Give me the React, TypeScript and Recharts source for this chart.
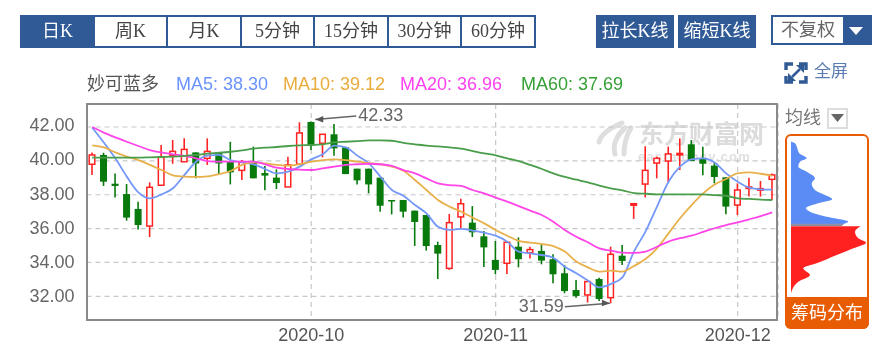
import React from 'react';
import {
  Area,
  Bar,
  CartesianGrid,
  ComposedChart,
  Line,
  ReferenceDot,
  XAxis,
  YAxis,
} from 'recharts';

const tradingDates = [
  '2020-09-04', '2020-09-07', '2020-09-08', '2020-09-09', '2020-09-10', '2020-09-11',
  '2020-09-14', '2020-09-15', '2020-09-16', '2020-09-17', '2020-09-18', '2020-09-21',
  '2020-09-22', '2020-09-23', '2020-09-24', '2020-09-25', '2020-09-28', '2020-09-29',
  '2020-09-30', '2020-10-09', '2020-10-12', '2020-10-13', '2020-10-14', '2020-10-15',
  '2020-10-16', '2020-10-19', '2020-10-20', '2020-10-21', '2020-10-22', '2020-10-23',
  '2020-10-26', '2020-10-27', '2020-10-28', '2020-10-29', '2020-10-30', '2020-11-02',
  '2020-11-03', '2020-11-04', '2020-11-05', '2020-11-06', '2020-11-09', '2020-11-10',
  '2020-11-11', '2020-11-12', '2020-11-13', '2020-11-16', '2020-11-17', '2020-11-18',
  '2020-11-19', '2020-11-20', '2020-11-23', '2020-11-24', '2020-11-25', '2020-11-26',
  '2020-11-27', '2020-11-30', '2020-12-01', '2020-12-02', '2020-12-03', '2020-12-04',
];
const monthTicks = ['2020-10-09', '2020-11-02', '2020-12-01'];
const priceTicks = [32, 34, 36, 38, 40, 42];

const openPrices = [
  39.8, 40.35, 38.65, 38.04, 37.16, 36.15, 38.56, 40.33, 39.95, 40.5,
  40.15, 40.5, 39.99, 39.44, 39.95, 39.28, 39.01, 38.46, 39.8, 42.3,
  41.04, 41.57, 40.8, 39.54, 39.54, 39.01, 37.69, 37.69, 37.06, 36.8,
  35.03, 33.65, 36.69, 36.35, 35.54, 34.15, 33.95, 34.93, 34.58, 34.68,
  34.19, 33.36, 32.37, 32.08, 33.02, 31.92, 34.4, 37.41, 38.63, 39.87,
  39.99, 40.39, 40.98, 40.15, 39.72, 39.03, 37.39, 38.4, 38.28, 38.91,
];
const closePrices = [
  40.35, 38.77, 38.52, 36.65, 36.21, 38.44, 40.21, 40.56, 40.68, 39.85,
  40.56, 39.85, 39.32, 39.91, 38.97, 39.13, 38.69, 39.76, 41.65, 40.9,
  41.57, 40.74, 39.22, 38.85, 38.61, 37.35, 37.65, 37.0, 36.39, 34.97,
  34.52, 36.35, 37.47, 35.78, 34.89, 33.56, 35.19, 34.19, 34.76, 34.11,
  33.3, 32.31, 32.02, 32.87, 31.84, 34.48, 34.09, 37.47, 39.44, 40.15,
  40.41, 40.44, 39.99, 39.83, 39.05, 37.3, 38.28, 38.46, 38.36, 39.17,
];
const highPrices = [
  40.5, 40.48, 39.26, 38.63, 37.59, 38.73, 40.94, 41.23, 41.33, 40.5,
  41.33, 40.5, 41.13, 40.05, 40.84, 39.7, 39.5, 40.25, 42.28, 42.33,
  41.57, 42.18, 40.8, 39.54, 39.54, 39.01, 37.69, 37.69, 37.06, 36.8,
  35.23, 36.86, 37.77, 37.33, 35.86, 35.27, 35.19, 35.48, 34.93, 35.03,
  34.48, 33.85, 32.96, 32.87, 33.1, 34.93, 35.03, 37.47, 40.86, 40.25,
  40.84, 41.33, 41.23, 40.84, 39.91, 39.03, 38.67, 39.0, 38.81, 39.26,
];
const lowPrices = [
  39.17, 38.52, 37.83, 36.47, 35.94, 35.5, 38.56, 39.83, 39.95, 38.97,
  39.76, 39.22, 38.61, 38.87, 38.97, 38.26, 38.34, 38.46, 39.8, 40.64,
  40.21, 40.31, 39.22, 38.61, 38.08, 37.0, 36.84, 36.65, 34.97, 34.7,
  33.02, 33.56, 36.02, 35.5, 33.73, 33.3, 33.32, 33.71, 34.24, 33.89,
  32.77, 32.18, 31.92, 31.63, 31.72, 31.59, 33.85, 36.57, 37.83, 38.97,
  38.71, 39.46, 39.99, 39.15, 38.67, 36.84, 36.8, 37.89, 37.89, 37.69,
];

const ma5 = [
  41.96, 41.09, 40.15, 39.07, 38.14, 37.79, 38.02, 38.38, 39.17, 39.95,
  40.31, 40.35, 40.05, 39.91, 39.8, 39.52, 39.26, 39.36, 39.66, 40.09,
  40.39, 40.9, 40.8, 40.31, 39.85, 39.07, 38.28, 37.94, 37.39, 36.9,
  36.11, 35.92, 35.98, 35.88, 35.76, 35.58, 35.23, 34.64, 34.54, 34.44,
  34.28, 33.75, 33.36, 32.93, 32.53, 32.73, 33.12, 34.64, 35.82, 37.3,
  38.77, 39.66, 40.09, 40.15, 39.91, 39.26, 38.77, 38.42, 38.32, 38.3,
];
const ma10 = [
  40.92, 40.8, 40.5, 40.25, 40.05, 39.76, 39.46, 39.15, 39.07, 39.05,
  39.09, 39.22, 39.4, 39.76, 39.91, 39.85, 39.76, 39.72, 39.8, 39.95,
  40.05, 40.09, 40.05, 39.95, 39.87, 39.8, 39.66, 39.42, 38.87, 38.28,
  37.69, 37.3, 37.0, 36.65, 36.31, 35.92, 35.58, 35.27, 35.17, 35.09,
  34.97, 34.64, 34.05, 33.71, 33.46, 33.52, 33.46, 33.79, 34.2, 34.83,
  35.72, 36.61, 37.39, 38.08, 38.61, 38.93, 39.26, 39.32, 39.24, 39.12,
];
const ma20 = [
  42, 41.67, 41.39, 41.13, 40.88, 40.64, 40.5, 40.39, 40.29, 40.15,
  39.99, 39.95, 39.95, 39.95, 39.95, 39.8, 39.6, 39.52, 39.48, 39.46,
  39.56, 39.66, 39.76, 39.8, 39.83, 39.8, 39.7, 39.46, 39.26, 38.97,
  38.67, 38.57, 38.52, 38.28, 38.08, 37.83, 37.59, 37.33, 37.06, 36.8,
  36.41, 35.92, 35.52, 35.19, 34.83, 34.7, 34.58, 34.56, 34.64, 34.93,
  35.23, 35.43, 35.58, 35.8, 36.02, 36.21, 36.37, 36.55, 36.74, 36.96,
];
const ma60 = [
  40.19, 40.19, 40.19, 40.19, 40.19, 40.21, 40.23, 40.25, 40.29, 40.35,
  40.43, 40.48, 40.54, 40.62, 40.72, 40.78, 40.82, 40.88, 40.92, 40.94,
  40.98, 41.09, 41.13, 41.17, 41.21, 41.21, 41.19, 41.06, 40.98, 40.9,
  40.86, 40.8, 40.72, 40.58, 40.44, 40.33, 40.15, 39.99, 39.76, 39.52,
  39.26, 39.05, 38.89, 38.73, 38.54, 38.38, 38.26, 38.1, 38.06, 38.02,
  38.02, 38.02, 38.02, 38.02, 37.98, 37.94, 37.79, 37.75, 37.71, 37.69,
];

// chip distribution, price levels from top to bottom
const chipPrices = [
  41.13, 41.04, 40.74, 40.45, 40.15, 39.95, 39.65, 39.36, 38.97, 38.67, 38.28,
  37.98, 37.73, 37.49, 37.2, 37.0, 36.7, 36.41, 36.28, 36.15, 36.14, 35.82, 35.43,
  35.17, 34.84, 34.44, 33.95, 33.66, 33.26, 32.86, 32.18,
];
const chipProfit = [
  0.7, 4, 6.3, 8.3, 15.7, 9, 7.3, 15.7, 24, 20.7, 24,
  34, 41.3, 27.3, 15, 19, 35.7, 57.3, 53, 50.7, null, null, null,
  null, null, null, null, null, null, null, null,
];
const chipOverlap = [
  null, null, null, null, null, null, null, null, null, null, null,
  null, null, null, null, null, null, null, 53, 50.7, null, null, null,
  null, null, null, null, null, null, null, null,
];
const chipLoss = [
  null, null, null, null, null, null, null, null, null, null, null,
  null, null, null, null, null, null, null, null, null, 69.7, 64, 67.3,
  75, 62.3, 45.7, 25.7, 12.3, 19, 7.3, 0,
];

const priceDomain = [30.6, 43.36];
const tabs = [
  { label: '日K', left: 20, width: 75 },
  { label: '周K', left: 95, width: 71 },
  { label: '月K', left: 168, width: 72 },
  { label: '5分钟', left: 242, width: 71 },
  { label: '15分钟', left: 315, width: 72 },
  { label: '30分钟', left: 389, width: 71 },
  { label: '60分钟', left: 462, width: 72 },
];
const legendItems = [
  { text: 'MA5: 38.30', left: 176, color: '#6a93ff' },
  { text: 'MA10: 39.12', left: 283, color: '#e8ac3c' },
  { text: 'MA20: 36.96', left: 400, color: '#ff40f0' },
  { text: 'MA60: 37.69', left: 521, color: '#35a035' },
];

const candleData = tradingDates.map((date, i) => ({
  date,
  open: openPrices[i],
  close: closePrices[i],
  high: highPrices[i],
  low: lowPrices[i],
  ma5: ma5[i],
  ma10: ma10[i],
  ma20: ma20[i],
  ma60: ma60[i],
}));

const chipData = chipPrices.map((price, i) => ({
  price,
  profit: chipProfit[i],
  overlap: chipOverlap[i],
  loss: chipLoss[i],
}));

const BLUE = '#2f5a96';
const SERIF = '"Liberation Serif", "Noto Sans CJK SC", serif';
const SANS = '"Liberation Sans", "Noto Sans CJK SC", sans-serif';

const Candle = (props: any) => {
  const { x, y, width, height, payload } = props;
  const rising = payload.close >= payload.open;
  const color = rising ? '#ff2222' : '#087a0c';
  const perUnit = Math.abs(height) / (payload.high - payload.low);
  const top = Math.min(y, y + height);
  const bodyTop = top + (payload.high - Math.max(payload.open, payload.close)) * perUnit;
  const bodyH = Math.max(Math.abs(payload.close - payload.open) * perUnit, 1.5);
  const mid = x + width / 2;
  return (
    <g>
      <line x1={mid} x2={mid} y1={top} y2={top + Math.abs(height)} stroke={color} strokeWidth={1.6} />
      {rising ? (
        <rect x={x + 0.7} y={bodyTop} width={width - 1.4} height={bodyH} fill="#fff" stroke={color} strokeWidth={1.5} />
      ) : (
        <rect x={x} y={bodyTop} width={width} height={bodyH} fill={color} />
      )}
    </g>
  );
};

// arrow from the price label to the high / low candle
const PriceArrow = (props: any) => {
  const { cx, cy, side, text } = props;
  const tipX = cx + (side === 'right' ? 4 : -1);
  const tipY = cy + (side === 'right' ? -2 : 0);
  const endX = side === 'right' ? cx + 45 : cx - 46;
  const endY = side === 'right' ? cy - 5.5 : cy + 3.5;
  const dir = side === 'right' ? 1 : -1;
  return (
    <g>
      <line x1={tipX} y1={tipY} x2={endX} y2={endY} stroke="#666" strokeWidth={1.5} />
      <polygon points={`${tipX},${tipY} ${tipX + dir * 8},${tipY - 3.5} ${tipX + dir * 8},${tipY + 3}`} fill="#555" />
      <text
        x={side === 'right' ? endX + 2 : endX - 1}
        y={endY + 5.5}
        fontSize={18}
        fontFamily={SANS}
        fill="#666"
        textAnchor={side === 'right' ? 'start' : 'end'}
      >
        {text}
      </text>
    </g>
  );
};

const PriceTick = (props: any) => {
  const { x, y, payload } = props;
  // the labels sit a little above their grid line at the top of the axis
  const drift = (42 - payload.value) * 0.2;
  return (
    <text x={x - 4} y={y + 4 + drift} textAnchor="end" fontSize={18} fontFamily={SANS} fill="#666">
      {payload.value.toFixed(2)}
    </text>
  );
};

const DateTick = (props: any) => {
  const { x, y, payload } = props;
  return (
    <text x={x} y={y + 13} textAnchor="middle" fontSize={18} fontFamily={SANS} fill="#555">
      {payload.value.slice(0, 7)}
    </text>
  );
};

const box = (left: number, top: number, width: number, height: number): React.CSSProperties => ({
  position: 'absolute',
  left,
  top,
  width,
  height,
  boxSizing: 'border-box',
});

const App: React.FC = () => {
  return (
    <div style={{ ...box(0, 0, 886, 354), overflow: 'hidden', background: '#fff', filter: 'blur(0.35px)' }}>
      {/* period tabs */}
      <div style={{ ...box(20, 15, 516, 33), background: BLUE }} />
      {tabs.map((tab, i) => (
        <div
          key={tab.label}
          style={{
            ...box(tab.left, 17, tab.width, 29),
            background: i === 0 ? BLUE : '#fff',
            color: i === 0 ? '#fff' : '#444',
            font: `18px ${SERIF}`,
            lineHeight: '29px',
            textAlign: 'center',
          }}
        >
          {tab.label}
        </div>
      ))}
      <div style={{ ...box(596, 15, 78, 33), background: BLUE, color: '#fff', font: `18px ${SERIF}`, lineHeight: '33px', textAlign: 'center' }}>拉长K线</div>
      <div style={{ ...box(678, 15, 78, 33), background: BLUE, color: '#fff', font: `18px ${SERIF}`, lineHeight: '33px', textAlign: 'center' }}>缩短K线</div>
      <div style={{ ...box(771, 15, 101, 30), background: BLUE }} />
      <div style={{ ...box(773, 17, 70, 26), background: '#fff', color: '#666', font: `18px ${SERIF}`, lineHeight: '26px', textAlign: 'center' }}>不复权</div>
      <svg style={box(847, 25, 18, 12)} viewBox="0 0 18 12">
        <polygon points="2,2 16,2 9,10" fill="#fff" />
      </svg>

      {/* fullscreen link */}
      <svg style={box(784, 61, 24, 24)} viewBox="0 0 24 24">
        <g fill="none" stroke="#2f5a96" strokeWidth={3.4}>
          <path d="M2 9V3h7M22 9V3h-7M2 15v6h7M22 15v6h-7" />
          <path d="M8 16l8-8" strokeWidth={2.5} />
        </g>
        <polygon points="12,4 20,4 20,12" fill="#2f5a96" />
        <polygon points="4,12 12,20 4,20" fill="#2f5a96" />
      </svg>
      <div style={{ ...box(814, 60, 40, 24), color: '#5a7cb0', font: `17px ${SERIF}`, lineHeight: '24px' }}>全屏</div>

      {/* legend */}
      <div style={{ ...box(87, 72, 80, 24), color: '#555', font: `18px ${SANS}`, lineHeight: '24px', whiteSpace: 'nowrap' }}>妙可蓝多</div>
      {legendItems.map((item) => (
        <div
          key={item.text}
          style={{ ...box(item.left, 72, 120, 24), color: item.color, font: `18px ${SANS}`, lineHeight: '24px', whiteSpace: 'nowrap' }}
        >
          {item.text}
        </div>
      ))}

      {/* watermark sits under the chart */}
      <svg style={box(596, 120, 40, 40)} viewBox="0 0 40 40">
        <g fill="none" stroke="#dedede" strokeWidth={5} strokeLinecap="round">
          <path d="M26 3C14 8 5 14 3 22" />
          <path d="M29 8C22 14 16 24 19 34" />
          <path d="M35 8C30 16 28 26 28 34" />
        </g>
      </svg>
      <div style={{ ...box(639, 120, 130, 28), color: '#dcdcdc', font: `bold 25px ${SANS}`, lineHeight: '28px', whiteSpace: 'nowrap' }}>东方财富网</div>
      <div style={{ ...box(638, 150, 130, 13), color: '#e0e0e0', font: `bold 13px ${SANS}`, lineHeight: '13px', letterSpacing: 1.2, whiteSpace: 'nowrap' }}>eastmoney.com</div>

      <div style={box(0, 0, 886, 354)}>
        <ComposedChart
          width={886}
          height={354}
          data={candleData}
          margin={{ top: 104, right: 108, bottom: 0, left: 0 }}
        >
          <CartesianGrid stroke="#c8c8c8" strokeDasharray="5 4" strokeWidth={1.2} />
          <XAxis
            dataKey="date"
            ticks={monthTicks}
            interval={0}
            height={34}
            axisLine={false}
            tickLine={false}
            tick={<DateTick />}
          />
          <YAxis
            type="number"
            domain={priceDomain}
            ticks={priceTicks}
            interval={0}
            width={86.5}
            axisLine={false}
            tickLine={false}
            tick={<PriceTick />}
          />
          <Bar
            dataKey={(d: any) => [d.low, d.high]}
            barSize={7}
            shape={<Candle />}
            isAnimationActive={false}
          />
          <Line dataKey="ma5" type="monotone" stroke="#7498f8" strokeWidth={1.8} dot={false} isAnimationActive={false} />
          <Line dataKey="ma10" type="monotone" stroke="#e8b04a" strokeWidth={1.8} dot={false} isAnimationActive={false} />
          <Line dataKey="ma20" type="monotone" stroke="#ff44e8" strokeWidth={1.8} dot={false} isAnimationActive={false} />
          <Line dataKey="ma60" type="monotone" stroke="#4a9d4a" strokeWidth={1.8} dot={false} isAnimationActive={false} />
          <ReferenceDot
            x="2020-10-09"
            y={42.33}
            shape={(p: any) => <PriceArrow {...p} side="right" text="42.33" />}
          />
          <ReferenceDot
            x="2020-11-16"
            y={31.59}
            shape={(p: any) => <PriceArrow {...p} side="left" text="31.59" />}
          />
        </ComposedChart>
      </div>
      <div style={{ ...box(86, 103, 692, 218), border: '2px solid #8a8a8a' }} />

      {/* chip distribution panel */}
      <div style={{ ...box(785, 106, 36, 24), color: '#777', font: `18px ${SERIF}`, lineHeight: '24px', whiteSpace: 'nowrap' }}>均线</div>
      <div style={{ ...box(827, 108, 21, 21), border: '2px solid #ddd' }} />
      <svg style={box(830, 113, 15, 10)} viewBox="0 0 15 10">
        <polygon points="1,1 14,1 7.5,9" fill="#666" />
      </svg>
      <div style={{ ...box(785, 134, 84, 195), border: '2px solid #e85d04', borderRadius: 6 }} />
      <div
        style={{
          ...box(785, 297, 84, 32),
          background: '#e85d04',
          borderRadius: '0 0 6px 6px',
          color: '#fff',
          font: `18px ${SANS}`,
          lineHeight: '32px',
          textAlign: 'center',
          whiteSpace: 'nowrap',
        }}
      >
        筹码分布
      </div>
      <div style={box(791, 104, 78, 216)}>
        <ComposedChart
          width={78}
          height={216}
          data={chipData}
          layout="vertical"
          margin={{ top: 0, right: 0, bottom: 0, left: 0 }}
        >
          <XAxis type="number" domain={[0, 78]} hide />
          <YAxis type="number" dataKey="price" domain={priceDomain} reversed hide />
          <Area dataKey="profit" type="monotone" fill="#5b8cf5" fillOpacity={1} stroke="none" isAnimationActive={false} />
          <Area dataKey="overlap" type="linear" fill="#8f8fa6" fillOpacity={1} stroke="none" isAnimationActive={false} />
          <Area dataKey="loss" type="monotone" fill="#ff2020" fillOpacity={1} stroke="none" isAnimationActive={false} />
        </ComposedChart>
      </div>
    </div>
  );
};

export default App;
